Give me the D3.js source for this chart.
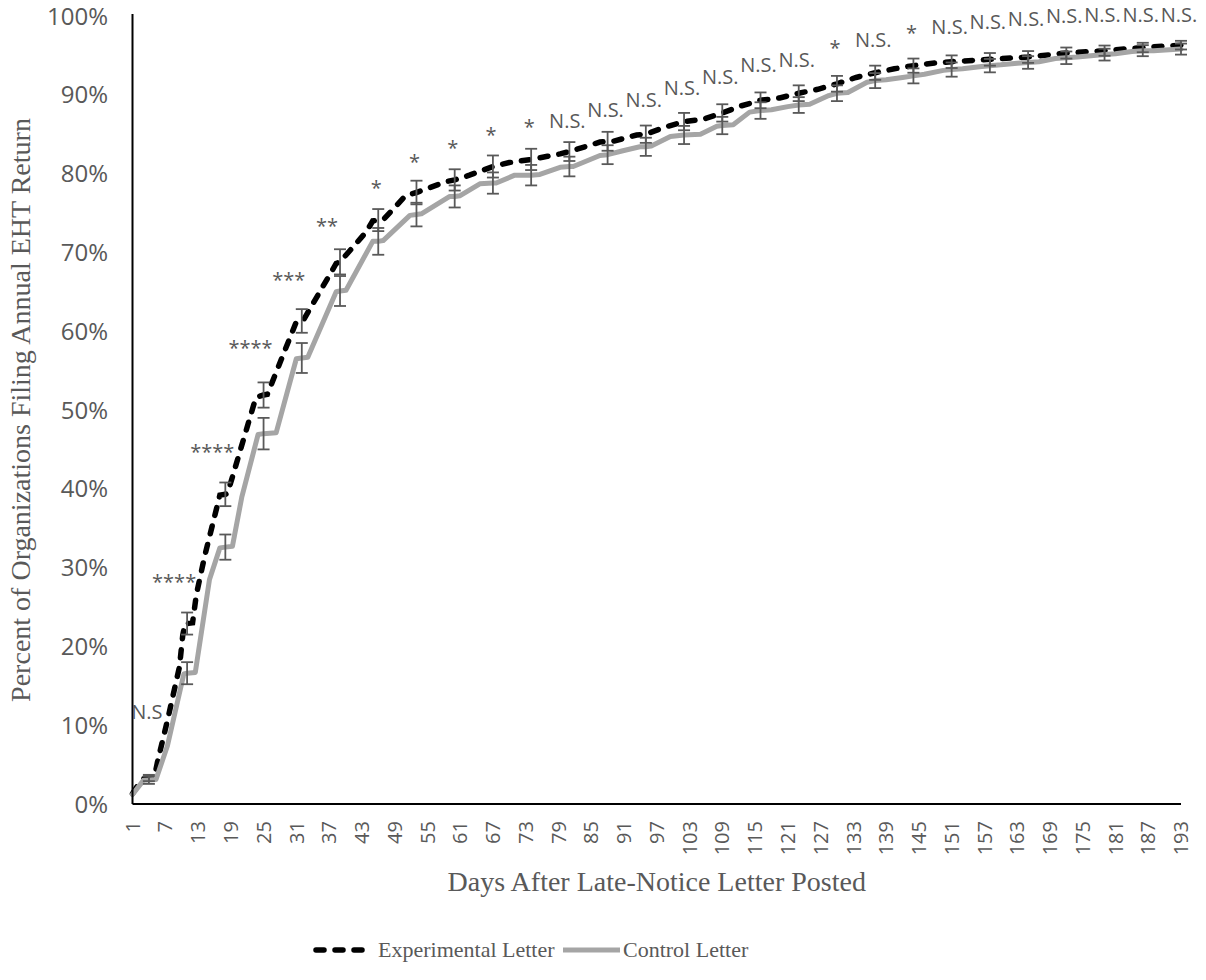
<!DOCTYPE html>
<html>
<head>
<meta charset="utf-8">
<script src="https://cdn.jsdelivr.net/npm/d3@7"></script>
<style>
  body { margin: 0; background: #fff; }
  svg { display: block; }
</style>
</head>
<body>
<div id="vis"></div>
<script>
// days on the category axis, every 6th one gets a label
var days = d3.range(1, 194);
var tickDays = d3.range(1, 194, 6);
var yTicks = [0, 10, 20, 30, 40, 50, 60, 70, 80, 90, 100];

// cumulative percent filed as [day, percent]
var experimental = [
  [1, 1.3], [2, 2.4], [3, 3.2], [4, 3.3], [5, 3.4], [5.6, 5.4], [7.4, 10.6], [9.6, 17.4],
  [10.2, 21.4], [10.6, 22.9], [11, 22.9], [12, 23.0], [12.7, 26.6], [14.2, 31.4], [17, 39.2],
  [18, 39.3], [18.4, 39.4], [23.6, 51.6], [25, 51.9], [25.7, 52.0], [31, 61.2], [32, 61.3],
  [32.3, 61.4], [38.3, 68.6], [39, 68.8], [43.8, 72.6], [45, 74.0], [46, 74.1], [47, 74.2],
  [51, 77.2], [53, 77.6], [58.5, 79.0], [60, 79.2], [62.7, 79.8], [67, 80.9], [70, 81.4],
  [74, 81.8], [77, 82.2], [79.3, 82.5], [81, 82.8], [86.6, 84.0], [88, 84.1], [89, 84.1],
  [93.3, 84.9], [95, 85.0], [98.5, 85.9], [102, 86.6], [105.5, 86.9], [109, 87.7], [112.5, 88.6],
  [116, 89.3], [119.5, 89.6], [123, 90.2], [126.5, 90.7], [130, 91.4], [133.5, 92.2], [137, 92.8],
  [140.5, 93.3], [144, 93.7], [147.5, 94.0], [151, 94.2], [158, 94.5], [165, 94.8], [172, 95.3],
  [179, 95.6], [186, 96.0], [193, 96.3]
];
var control = [
  [1, 1.2], [3, 3.0], [4, 3.05], [5.3, 3.1], [7.4, 7.4], [10.4, 16.5], [11, 16.6], [12.5, 16.7],
  [15.1, 28.5], [17, 32.5], [18, 32.6], [19.3, 32.7], [21, 38.9], [24, 46.9], [25, 47.0],
  [27.3, 47.1], [31, 56.5], [32, 56.6], [33.1, 56.7], [38.3, 65.0], [39, 65.1], [40.1, 65.2],
  [45, 71.4], [46, 71.4], [46.9, 71.5], [51.8, 74.7], [53, 74.8], [53.9, 74.9], [59.1, 77.1],
  [60, 77.1], [61, 77.2], [64.6, 78.7], [67, 78.8], [67.6, 78.8], [71, 79.8], [74, 79.8],
  [75.6, 79.9], [79.3, 80.8], [81, 80.9], [81.7, 80.9], [86.6, 82.3], [88, 82.4], [90.8, 82.9],
  [93.9, 83.4], [95, 83.4], [96, 83.5], [99.5, 84.7], [102, 84.9], [105, 85.0], [108, 86.0],
  [109, 86.1], [111, 86.2], [114, 87.8], [116, 88.0], [118, 88.1], [121, 88.5], [123, 88.7],
  [125, 88.8], [128.5, 89.9], [130, 90.2], [132, 90.3], [135.5, 91.6], [137, 91.8], [139, 91.9],
  [142, 92.2], [144, 92.4], [146, 92.6], [149.5, 93.1], [151, 93.2], [153, 93.3], [156.5, 93.6],
  [158, 93.7], [160, 93.8], [163, 94.0], [165, 94.1], [167, 94.2], [170, 94.6], [172, 94.7],
  [174, 94.8], [177, 95.0], [179, 95.1], [181, 95.2], [184, 95.5], [186, 95.6], [188, 95.6],
  [193, 95.8]
];

// weekly error bars (half width in percent points)
var errDays = d3.range(4, 194, 7);
var expErr = [0.4, 1.4, 1.5, 1.6, 1.5, 1.6, 1.4, 1.5, 1.35, 1.4, 1.35, 1.2, 1.2, 1.1,
  1.1, 1.1, 1.0, 1.0, 1.0, 0.9, 0.9, 0.8, 0.8, 0.75, 0.7, 0.65, 0.6, 0.55];
var ctlErr = [0.5, 1.4, 1.6, 2.0, 1.9, 1.9, 1.7, 1.5, 1.4, 1.35, 1.3, 1.25, 1.2, 1.15,
  1.15, 1.1, 1.05, 1.0, 1.0, 0.95, 0.95, 0.9, 0.85, 0.8, 0.8, 0.75, 0.7, 0.7];

// significance markers over each weekly point
var sigText = ["N.S", "****", "****", "****", "***", "**", "*", "*", "*", "*", "*",
  "N.S.", "N.S.", "N.S.", "N.S.", "N.S.", "N.S.", "N.S.", "*", "N.S.", "*",
  "N.S.", "N.S.", "N.S.", "N.S.", "N.S.", "N.S.", "N.S."];
var sigY = [11.7, 28.7, 45.3, 58.4, 67.1, 73.9, 78.8, 82.1, 83.8, 85.5, 86.5,
  86.7, 88.1, 89.3, 90.8, 92.3, 93.8, 94.4, 96.5, 97.0, 98.4,
  98.6, 99.2, 99.6, 100.0, 100.3, 100.5, 100.6];

var seriesNames = ["Experimental Letter", "Control Letter"];

var width = 1206, height = 980;
var gray = "#595959";
var sans = "'Open Sans', 'Noto Sans', sans-serif";
var serif = "'Liberation Serif', 'Times New Roman', serif";

var svg = d3.select("#vis").append("svg")
    .attr("width", width)
    .attr("height", height);

var x = d3.scaleLinear().domain([1, 193]).range([132.5, 1181]);
var y = d3.scaleLinear().domain([0, 100]).range([804, 16]);

// y tick labels
svg.append("g").selectAll("text")
    .data(yTicks)
    .enter().append("text")
    .attr("x", 108)
    .attr("y", function(d) { return y(d); })
    .attr("dy", "0.36em")
    .attr("text-anchor", "end")
    .style("font-family", sans)
    .style("font-size", "24px")
    .style("fill", gray)
    .text(function(d) { return d + "%"; });

// x tick labels, turned
svg.append("g").selectAll("text")
    .data(tickDays)
    .enter().append("text")
    .attr("transform", function(d) { return "translate(" + x(d) + ",821) rotate(-90)"; })
    .attr("dy", "0.36em")
    .attr("text-anchor", "end")
    .style("font-family", sans)
    .style("font-size", "20px")
    .style("fill", gray)
    .text(function(d) { return d; });

var line = d3.line()
    .x(function(d) { return x(d[0]); })
    .y(function(d) { return y(d[1]); });

svg.append("path")
    .datum(experimental)
    .attr("d", line)
    .style("fill", "none")
    .style("stroke", "#000")
    .style("stroke-width", 5.5)
    .style("stroke-linecap", "round")
    .style("stroke-dasharray", "8,11");

svg.append("path")
    .datum(control)
    .attr("d", line)
    .style("fill", "none")
    .style("stroke", "#A5A5A5")
    .style("stroke-width", 5)
    .style("stroke-linejoin", "round")
    .style("stroke-linecap", "round");

// error bars
function valueAt(series, day) {
  return series.find(function(p) { return p[0] === day; })[1];
}

function errorBars(series, err) {
  var g = svg.append("g")
      .style("stroke", gray)
      .style("stroke-width", 1.8);
  errDays.forEach(function(day, i) {
    var v = valueAt(series, day);
    var cx = x(day), y0 = y(v - err[i]), y1 = y(v + err[i]);
    g.append("line").attr("x1", cx).attr("x2", cx).attr("y1", y0).attr("y2", y1);
    g.append("line").attr("x1", cx - 6).attr("x2", cx + 6).attr("y1", y0).attr("y2", y0);
    g.append("line").attr("x1", cx - 6).attr("x2", cx + 6).attr("y1", y1).attr("y2", y1);
  });
}
errorBars(experimental, expErr);
errorBars(control, ctlErr);

// axes lines
svg.append("line")
    .attr("x1", x(1)).attr("x2", x(1))
    .attr("y1", y(100) - 2).attr("y2", y(0))
    .style("stroke", "#000").style("stroke-width", 2);
svg.append("line")
    .attr("x1", x(1)).attr("x2", x(193))
    .attr("y1", y(0)).attr("y2", y(0))
    .style("stroke", "#000").style("stroke-width", 2);

// significance labels (kept a few px inside the top edge)
svg.append("g").selectAll("text")
    .data(errDays)
    .enter().append("text")
    .attr("x", function(d, i) {
      var t = sigText[i];
      return x(d) + (t.indexOf("*") === 0 && t.length > 1 ? -13 : -2);
    })
    .attr("y", function(d, i) {
      var base = y(sigY[i]) + (sigText[i].indexOf("*") === 0 ? 11.5 : 7);
      return Math.max(base, 21.5);
    })
    .attr("text-anchor", "middle")
    .style("font-family", sans)
    .style("font-size", "20px")
    .style("fill", gray)
    .text(function(d, i) { return sigText[i]; });

// axis titles
svg.append("text")
    .attr("transform", "translate(30," + ((y(0) + y(100)) / 2) + ") rotate(-90)")
    .attr("text-anchor", "middle")
    .style("font-family", serif)
    .style("font-size", "28px")
    .style("fill", gray)
    .text("Percent of Organizations Filing Annual EHT Return");

svg.append("text")
    .attr("x", (x(1) + x(193)) / 2)
    .attr("y", 891)
    .attr("text-anchor", "middle")
    .style("font-family", serif)
    .style("font-size", "28px")
    .style("fill", gray)
    .text("Days After Late-Notice Letter Posted");

// legend
var legendY = 950;
var legend = svg.append("g");
legend.append("line")
    .attr("x1", 316).attr("x2", 368).attr("y1", legendY).attr("y2", legendY)
    .style("stroke", "#000").style("stroke-width", 5.5)
    .style("stroke-linecap", "round").style("stroke-dasharray", "8,11");
legend.append("line")
    .attr("x1", 563).attr("x2", 620).attr("y1", legendY).attr("y2", legendY)
    .style("stroke", "#A5A5A5").style("stroke-width", 5);
legend.selectAll("text")
    .data(seriesNames)
    .enter().append("text")
    .attr("x", function(d, i) { return i === 0 ? 378 : 623; })
    .attr("y", legendY)
    .attr("dy", "0.33em")
    .style("font-family", serif)
    .style("font-size", "22px")
    .style("fill", gray)
    .text(function(d) { return d; });
</script>
</body>
</html>
